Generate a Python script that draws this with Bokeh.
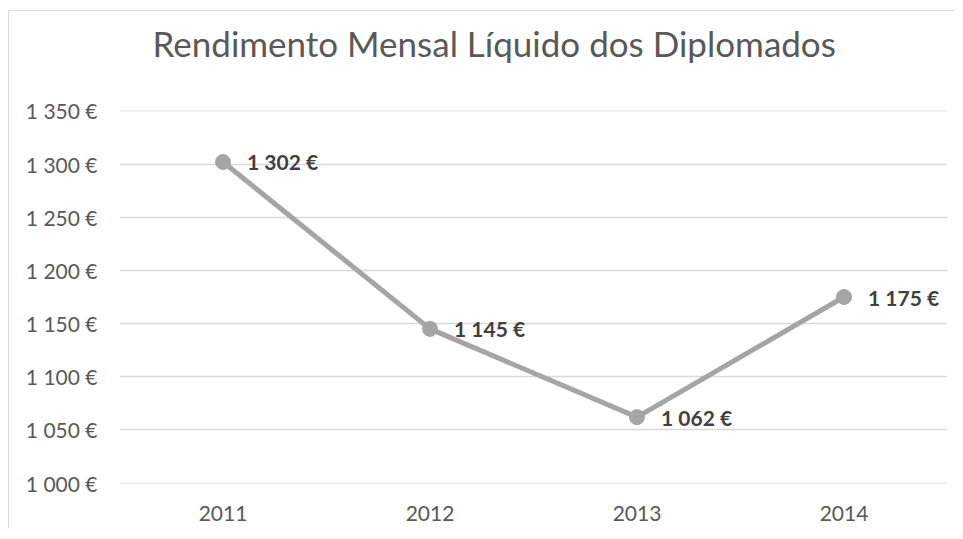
from bokeh.plotting import figure
from bokeh.models import Range1d, FactorRange, FixedTicker, ColumnDataSource, Title
from bokeh.core.properties import value
from bokeh.embed import file_html
from bokeh.resources import INLINE

title_text = "Rendimento Mensal Líquido dos Diplomados"
years = ["2011", "2012", "2013", "2014"]
income = [1302, 1145, 1062, 1175]
y_ticks = [1000, 1050, 1100, 1150, 1200, 1250, 1300, 1350]
y_tick_labels = ["1 000 €", "1 050 €", "1 100 €", "1 150 €", "1 200 €", "1 250 €", "1 300 €", "1 350 €"]
data_labels = ["1 302 €", "1 145 €", "1 062 €", "1 175 €"]

FONT = "Lato"

p = figure(width=946, height=518, x_range=FactorRange(*years), y_range=Range1d(999.6, 1350.4),
           output_backend="svg", toolbar_location=None,
           min_border_left=110, min_border_right=8, min_border_top=0, min_border_bottom=46)
p.styles = {"border-left": "1px solid #d9d9d9", "border-top": "1px solid #d9d9d9",
            "margin-left": "8px", "margin-top": "10px"}

# spacer between title and plot frame
spacer = Title(text=" ", text_font_size="1px", standoff=32)
p.add_layout(spacer, "above")
main_title = Title(text=title_text, align="left", offset=33, vertical_align="top",
                   text_font=FONT, text_font_size="35px", text_font_style="normal",
                   text_color="#595959", standoff=20)
p.add_layout(main_title, "above")

p.outline_line_color = None
p.background_fill_color = "white"
p.border_fill_color = "white"

p.xgrid.grid_line_color = None
p.ygrid.grid_line_color = "#d9d9d9"
p.ygrid.grid_line_width = 1.3

p.yaxis.ticker = FixedTicker(ticks=y_ticks)
p.yaxis.major_label_overrides = dict(zip(y_ticks, y_tick_labels))
for ax in (p.xaxis, p.yaxis):
    ax.axis_line_color = None
    ax.major_tick_line_color = None
    ax.minor_tick_line_color = None
    ax.major_label_text_font = FONT
    ax.major_label_text_font_size = "21px"
    ax.major_label_text_color = "#595959"
p.yaxis.major_label_standoff = 16
p.xaxis.major_label_standoff = 16

src = ColumnDataSource(dict(x=years, y=income, lab=data_labels))
p.line("x", "y", source=src, line_color="#a5a5a5", line_width=5)
p.scatter("x", "y", source=src, size=15, fill_color="#a5a5a5", line_color="#a5a5a5")
p.text("x", "y", text="lab", source=src, x_offset=24, text_baseline="middle", text_align="left",
       text_font=value(FONT), text_font_style="bold", text_font_size="21px", text_color="#404040")

open("out.html", "w").write(file_html(p, INLINE))
